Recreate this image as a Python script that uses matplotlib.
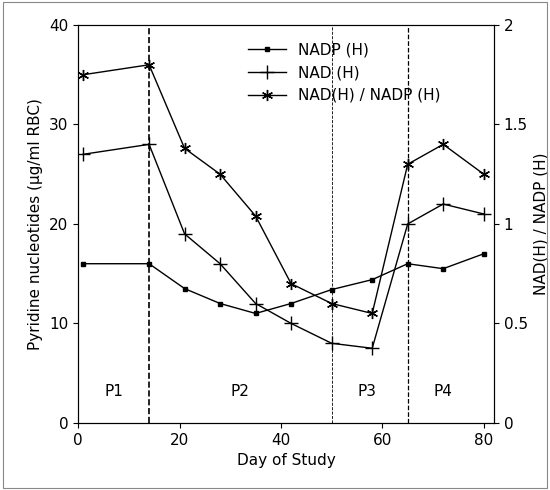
import matplotlib.pyplot as plt
import matplotlib.patches as mpatches

days = [1, 14, 21, 28, 35, 42, 50, 58, 65, 72, 80]
nadp = [16, 16, 13.5, 12, 11, 12, 13.4, 14.4, 16, 15.5, 17]
nad = [27, 28, 19, 16, 12, 10, 8, 7.5, 20, 22, 21]
ratio = [1.75, 1.8, 1.38, 1.25, 1.04, 0.7, 0.6, 0.55, 1.3, 1.4, 1.25]
phase_labels = ["P1", "P2", "P3", "P4"]
phase_x = [7, 32, 57, 72]

fig = plt.figure(figsize=(5.5, 4.9), dpi=100)
fig.patches.append(mpatches.Rectangle((0.005, 0.005), 0.99, 0.99, transform=fig.transFigure,
                                      fill=False, edgecolor="#888888", lw=0.8))
ax = fig.add_axes([0.142, 0.137, 0.756, 0.812])
ax2 = ax.twinx()

l1, = ax.plot(days, nadp, color="black", lw=1, marker="s", ms=3, label="NADP (H)")
l2, = ax.plot(days, nad, color="black", lw=1, marker="+", ms=10, mew=1, label="NAD (H)")
l3, = ax2.plot(days, ratio, color="black", lw=1, marker=(6, 2, 0), ms=8, mew=1,
               label="NAD(H) / NADP (H)")

ax.axvline(14, color="black", ls="--", lw=1.2)
ax.axvline(50, color="black", ls="--", lw=0.6)
ax.axvline(65, color="black", ls="--", lw=0.9)
for lab, x in zip(phase_labels, phase_x):
    ax.text(x, 3.2, lab, ha="center", va="center", fontsize=11)

ax.set_xlim(0, 82)
ax.set_ylim(0, 40)
ax2.set_ylim(0, 2)
ax.set_xticks([0, 20, 40, 60, 80])
ax.set_yticks([0, 10, 20, 30, 40])
ax2.set_yticks([0, 0.5, 1, 1.5, 2])
ax2.set_yticklabels(["0", "0.5", "1", "1.5", "2"])
ax.set_xlabel("Day of Study", fontsize=11)
ax.set_ylabel("Pyridine nucleotides (μg/ml RBC)", fontsize=11)
ax2.set_ylabel("NAD(H) / NADP (H)", fontsize=11)
for a in (ax, ax2):
    a.tick_params(labelsize=11)

ax.legend(handles=[l1, l2, l3], loc="upper center", bbox_to_anchor=(0.64, 0.99),
          frameon=False, fontsize=11, handlelength=2.5)

fig.savefig("out.png", dpi=100)
